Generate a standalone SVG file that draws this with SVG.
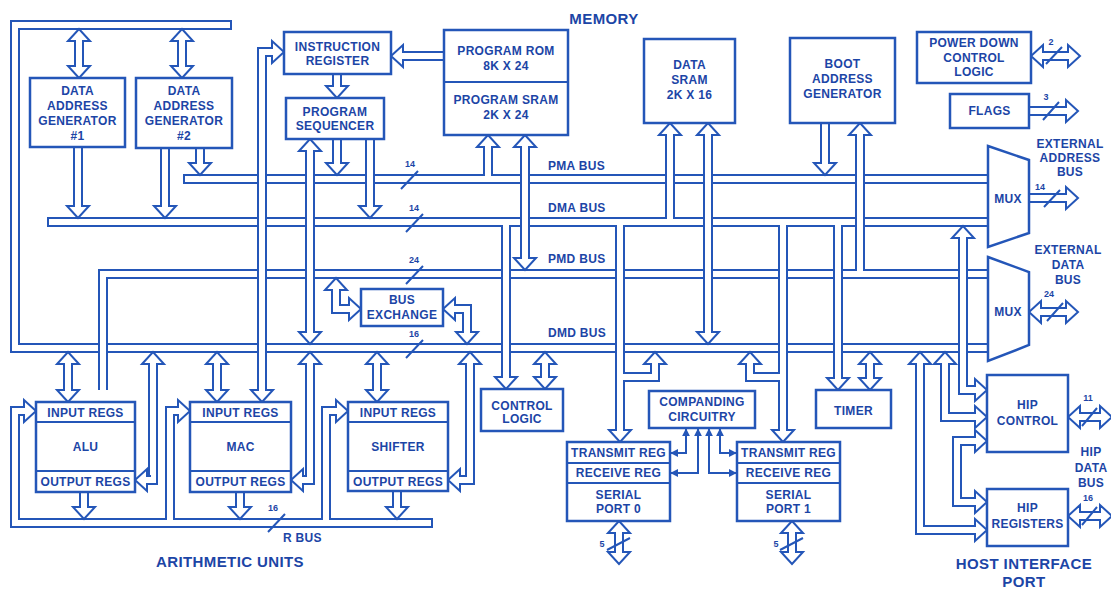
<svg xmlns="http://www.w3.org/2000/svg" width="1111" height="589" viewBox="0 0 1111 589">
<style>
.b{fill:none;stroke:#2456b8;stroke-width:10}
.w{fill:none;stroke:#fff;stroke-width:6}
.h{fill:#fff;stroke:#2456b8;stroke-width:2}
.bx{fill:#fff;stroke:#2456b8;stroke-width:2.5}
.ln{fill:none;stroke:#2456b8;stroke-width:2}
text{font-family:"Liberation Sans",Arial,Helvetica,sans-serif;font-weight:bold;fill:#1c45a6;text-anchor:middle}
.t{font-size:12px;letter-spacing:0.3px}
.n{font-size:9px}
.big{font-size:15px;letter-spacing:0.4px}
.s{text-anchor:start}
</style>
<defs>
<path id="ah" d="M-4,16V12H-11L0,0L11,12H4V16"/>
<marker id="fa" viewBox="0 0 10 10" refX="9" refY="5" markerWidth="8" markerHeight="8" markerUnits="userSpaceOnUse" orient="auto-start-reverse"><path d="M0,0L10,5L0,10z" fill="#2456b8"/></marker>
<path id="dmd" d="M232,25H15V348H988"/>
<path id="pma" d="M183,179H988"/>
<path id="dma" d="M47,222H988"/>
<path id="pmd" d="M988,274H103V390"/>
<path id="rbus" d="M433,523H15V411H24"/>
<path id="macl" d="M170,520V411H178"/>
<path id="shl" d="M326,520V411H334"/>
<path id="dag1t" d="M79,41V66"/>
<path id="dag2t" d="M182,41V66"/>
<path id="dag1b" d="M78,148V206"/>
<path id="dag2b" d="M165,148V206"/>
<path id="dag2p" d="M200,148V163"/>
<path id="ir" d="M262,390V52H272"/>
<path id="romir" d="M444,56H403"/>
<path id="irps" d="M337,74V86"/>
<path id="psdmd" d="M310,151V332"/>
<path id="pspma" d="M337,139V163"/>
<path id="psdma" d="M370,139V206"/>
<path id="pmarom" d="M488,176V147"/>
<path id="rompmd" d="M525,147V258"/>
<path id="dmasram" d="M670,219V135"/>
<path id="sramdmd" d="M708,135V332"/>
<path id="bagpma" d="M825,123V163"/>
<path id="pmdbag" d="M860,271V135"/>
<path id="bxl" d="M349,309H336V290"/>
<path id="bxr" d="M455,309H467V332"/>
<path id="dmacl" d="M506,225V377"/>
<path id="dmdcl" d="M545,364V377"/>
<path id="sp0" d="M620,225V430"/>
<path id="sp0b" d="M620,377H655V364"/>
<path id="sp1" d="M783,225V430"/>
<path id="sp1b" d="M783,377H750V364"/>
<path id="tim" d="M838,225V378"/>
<path id="dmdtim" d="M870,364V378"/>
<path id="hipr" d="M920,364V530H975"/>
<path id="hipc1" d="M945,364V417H975"/>
<path id="hipc0" d="M963,238V390H975"/>
<path id="hipcr" d="M975,441H957V502H975"/>
<path id="pd" d="M1043,56H1068"/>
<path id="flg" d="M1029,111H1066"/>
<path id="m1" d="M1029,198H1066"/>
<path id="m2" d="M1041,312H1066"/>
<path id="hco" d="M1080,417H1100"/>
<path id="hro" d="M1080,516H1100"/>
<path id="aludmd" d="M68,364V390"/>
<path id="alul" d="M147,480H153V364"/>
<path id="aluo" d="M84,492V507"/>
<path id="macdmd" d="M217,364V390"/>
<path id="macl2" d="M303,480H310V364"/>
<path id="maco" d="M240,492V507"/>
<path id="shdmd" d="M377,364V390"/>
<path id="shl2" d="M460,480H470V364"/>
<path id="sho" d="M397,491V507"/>
<path id="sp0o" d="M619,533V552"/>
<path id="sp1o" d="M792,533V552"/>
</defs>
<rect width="1111" height="589" fill="#fff"/>
<g id="connectors">
<use href="#dmd" class="b"/><use href="#dmd" class="w"/>
<use href="#pma" class="b"/><use href="#pma" class="w"/>
<use href="#dma" class="b"/><use href="#dma" class="w"/>
<use href="#pmd" class="b"/><use href="#pmd" class="w"/>
<use href="#rbus" class="b"/><use href="#macl" class="b"/><use href="#shl" class="b"/>
<use href="#rbus" class="w"/><use href="#macl" class="w"/><use href="#shl" class="w"/>
<path class="ln" d="M231,20V30M184,174V184M48,217V227M432,518V528"/>
<use href="#dag1t" class="b"/><use href="#dag1t" class="w"/>
<use href="#dag2t" class="b"/><use href="#dag2t" class="w"/>
<use href="#dag1b" class="b"/><use href="#dag1b" class="w"/>
<use href="#dag2b" class="b"/><use href="#dag2b" class="w"/>
<use href="#dag2p" class="b"/><use href="#dag2p" class="w"/>
<use href="#ir" class="b"/><use href="#ir" class="w"/>
<use href="#romir" class="b"/><use href="#romir" class="w"/>
<use href="#irps" class="b"/><use href="#irps" class="w"/>
<use href="#psdmd" class="b"/><use href="#psdmd" class="w"/>
<use href="#pspma" class="b"/><use href="#pspma" class="w"/>
<use href="#psdma" class="b"/><use href="#psdma" class="w"/>
<use href="#pmarom" class="b"/><use href="#pmarom" class="w"/>
<use href="#rompmd" class="b"/><use href="#rompmd" class="w"/>
<use href="#dmasram" class="b"/><use href="#dmasram" class="w"/>
<use href="#sramdmd" class="b"/><use href="#sramdmd" class="w"/>
<use href="#bagpma" class="b"/><use href="#bagpma" class="w"/>
<use href="#pmdbag" class="b"/><use href="#pmdbag" class="w"/>
<use href="#bxl" class="b"/><use href="#bxl" class="w"/>
<use href="#bxr" class="b"/><use href="#bxr" class="w"/>
<use href="#dmacl" class="b"/><use href="#dmacl" class="w"/>
<use href="#dmdcl" class="b"/><use href="#dmdcl" class="w"/>
<use href="#sp0" class="b"/><use href="#sp0b" class="b"/><use href="#sp0" class="w"/><use href="#sp0b" class="w"/>
<use href="#sp1" class="b"/><use href="#sp1b" class="b"/><use href="#sp1" class="w"/><use href="#sp1b" class="w"/>
<use href="#tim" class="b"/><use href="#tim" class="w"/>
<use href="#dmdtim" class="b"/><use href="#dmdtim" class="w"/>
<use href="#hipr" class="b"/><use href="#hipr" class="w"/>
<use href="#hipc1" class="b"/><use href="#hipc1" class="w"/>
<use href="#hipc0" class="b"/><use href="#hipc0" class="w"/>
<use href="#hipcr" class="b"/><use href="#hipcr" class="w"/>
<use href="#pd" class="b"/><use href="#pd" class="w"/>
<use href="#flg" class="b"/><use href="#flg" class="w"/>
<use href="#m1" class="b"/><use href="#m1" class="w"/>
<use href="#m2" class="b"/><use href="#m2" class="w"/>
<use href="#hco" class="b"/><use href="#hco" class="w"/>
<use href="#hro" class="b"/><use href="#hro" class="w"/>
<use href="#aludmd" class="b"/><use href="#aludmd" class="w"/>
<use href="#alul" class="b"/><use href="#alul" class="w"/>
<use href="#aluo" class="b"/><use href="#aluo" class="w"/>
<use href="#macdmd" class="b"/><use href="#macdmd" class="w"/>
<use href="#macl2" class="b"/><use href="#macl2" class="w"/>
<use href="#maco" class="b"/><use href="#maco" class="w"/>
<use href="#shdmd" class="b"/><use href="#shdmd" class="w"/>
<use href="#shl2" class="b"/><use href="#shl2" class="w"/>
<use href="#sho" class="b"/><use href="#sho" class="w"/>
<use href="#sp0o" class="b"/><use href="#sp0o" class="w"/>
<use href="#sp1o" class="b"/><use href="#sp1o" class="w"/>
<g class="h">
<use href="#ah" transform="translate(79,29)"/><use href="#ah" transform="translate(79,78) rotate(180)"/>
<use href="#ah" transform="translate(182,29)"/><use href="#ah" transform="translate(182,78) rotate(180)"/>
<use href="#ah" transform="translate(78,218) rotate(180)"/>
<use href="#ah" transform="translate(165,218) rotate(180)"/>
<use href="#ah" transform="translate(200,175) rotate(180)"/>
<use href="#ah" transform="translate(284,52) rotate(90)"/><use href="#ah" transform="translate(262,402) rotate(180)"/>
<use href="#ah" transform="translate(391,56) rotate(270)"/>
<use href="#ah" transform="translate(337,98) rotate(180)"/>
<use href="#ah" transform="translate(310,139)"/><use href="#ah" transform="translate(310,344) rotate(180)"/>
<use href="#ah" transform="translate(337,175) rotate(180)"/>
<use href="#ah" transform="translate(370,218) rotate(180)"/>
<use href="#ah" transform="translate(488,135)"/>
<use href="#ah" transform="translate(525,135)"/><use href="#ah" transform="translate(525,270) rotate(180)"/>
<use href="#ah" transform="translate(670,123)"/>
<use href="#ah" transform="translate(708,123)"/><use href="#ah" transform="translate(708,344) rotate(180)"/>
<use href="#ah" transform="translate(825,175) rotate(180)"/>
<use href="#ah" transform="translate(860,123)"/>
<use href="#ah" transform="translate(361,309) rotate(90)"/><use href="#ah" transform="translate(336,278)"/>
<use href="#ah" transform="translate(443,309) rotate(270)"/><use href="#ah" transform="translate(467,344) rotate(180)"/>
<use href="#ah" transform="translate(506,389) rotate(180)"/>
<use href="#ah" transform="translate(545,352)"/><use href="#ah" transform="translate(545,389) rotate(180)"/>
<use href="#ah" transform="translate(620,442) rotate(180)"/><use href="#ah" transform="translate(655,352)"/>
<use href="#ah" transform="translate(783,442) rotate(180)"/><use href="#ah" transform="translate(750,352)"/>
<use href="#ah" transform="translate(838,390) rotate(180)"/>
<use href="#ah" transform="translate(870,352)"/><use href="#ah" transform="translate(870,390) rotate(180)"/>
<use href="#ah" transform="translate(920,352)"/><use href="#ah" transform="translate(987,530) rotate(90)"/>
<use href="#ah" transform="translate(945,352)"/><use href="#ah" transform="translate(987,417) rotate(90)"/>
<use href="#ah" transform="translate(963,226)"/><use href="#ah" transform="translate(987,390) rotate(90)"/>
<use href="#ah" transform="translate(987,441) rotate(90)"/><use href="#ah" transform="translate(987,502) rotate(90)"/>
<use href="#ah" transform="translate(1031,56) rotate(270)"/><use href="#ah" transform="translate(1080,56) rotate(90)"/>
<use href="#ah" transform="translate(1078,111) rotate(90)"/>
<use href="#ah" transform="translate(1078,198) rotate(90)"/>
<use href="#ah" transform="translate(1029,312) rotate(270)"/><use href="#ah" transform="translate(1078,312) rotate(90)"/>
<use href="#ah" transform="translate(1068,417) rotate(270)"/><use href="#ah" transform="translate(1112,417) rotate(90)"/>
<use href="#ah" transform="translate(1068,516) rotate(270)"/><use href="#ah" transform="translate(1112,516) rotate(90)"/>
<use href="#ah" transform="translate(68,352)"/><use href="#ah" transform="translate(68,402) rotate(180)"/>
<use href="#ah" transform="translate(135,480) rotate(270)"/><use href="#ah" transform="translate(153,352)"/>
<use href="#ah" transform="translate(84,519) rotate(180)"/>
<use href="#ah" transform="translate(217,352)"/><use href="#ah" transform="translate(217,402) rotate(180)"/>
<use href="#ah" transform="translate(291,480) rotate(270)"/><use href="#ah" transform="translate(310,352)"/>
<use href="#ah" transform="translate(240,519) rotate(180)"/>
<use href="#ah" transform="translate(377,352)"/><use href="#ah" transform="translate(377,402) rotate(180)"/>
<use href="#ah" transform="translate(448,480) rotate(270)"/><use href="#ah" transform="translate(470,352)"/>
<use href="#ah" transform="translate(397,519) rotate(180)"/>
<use href="#ah" transform="translate(619,521)"/><use href="#ah" transform="translate(619,564) rotate(180)"/>
<use href="#ah" transform="translate(792,521)"/><use href="#ah" transform="translate(792,564) rotate(180)"/>
<use href="#ah" transform="translate(36,411) rotate(90)"/>
<use href="#ah" transform="translate(190,411) rotate(90)"/>
<use href="#ah" transform="translate(348,411) rotate(90)"/>
</g>
<g class="ln" marker-start="url(#fa)" marker-end="url(#fa)">
<path d="M686,429V453H671"/>
<path d="M698,429V473H671"/>
<path d="M709,429V473H736"/>
<path d="M720,429V453H736"/>
</g>
<path class="ln" d="M401,189L418,171M406,232L423,214M406,284L423,266M406,358L423,340M268,532L285,514M1046,64L1062,47M1043,120L1059,102M1044,207L1060,190M1047,321L1063,303M1082,426L1097,408M1082,525L1097,507M607,550L630,538M780,550L803,538"/>
<text class="n" x="410" y="167">14</text>
<text class="n" x="414" y="211">14</text>
<text class="n" x="414" y="263">24</text>
<text class="n" x="414" y="337">16</text>
<text class="n" x="273" y="511">16</text>
<text class="n" x="1051" y="45">2</text>
<text class="n" x="1046" y="100">3</text>
<text class="n" x="1040" y="190">14</text>
<text class="n" x="1049" y="297">24</text>
<text class="n" x="1088" y="401">11</text>
<text class="n" x="1088" y="501">16</text>
<text class="n" x="602" y="547">5</text>
<text class="n" x="776" y="547">5</text>
<text class="t s" x="548" y="170">PMA BUS</text>
<text class="t s" x="548" y="212">DMA BUS</text>
<text class="t s" x="548" y="263">PMD BUS</text>
<text class="t s" x="548" y="337">DMD BUS</text>
<text class="t s" x="283" y="542">R BUS</text>
</g>
<g id="dag1"><rect class="bx" x="30" y="78" width="95" height="69"/><text class="t" x="77.5" y="95">DATA</text><text class="t" x="77.5" y="110">ADDRESS</text><text class="t" x="77.5" y="125">GENERATOR</text><text class="t" x="77.5" y="140">#1</text></g>
<g id="dag2"><rect class="bx" x="136" y="78" width="96" height="70"/><text class="t" x="184" y="95">DATA</text><text class="t" x="184" y="110">ADDRESS</text><text class="t" x="184" y="125">GENERATOR</text><text class="t" x="184" y="140">#2</text></g>
<g id="ireg"><rect class="bx" x="284" y="32" width="107" height="42"/><text class="t" x="337.5" y="51">INSTRUCTION</text><text class="t" x="337.5" y="65">REGISTER</text></g>
<g id="pseq"><rect class="bx" x="286" y="98" width="98" height="41"/><text class="t" x="335" y="116">PROGRAM</text><text class="t" x="335" y="130">SEQUENCER</text></g>
<g id="pmem"><rect class="bx" x="444" y="30" width="124" height="105"/><path class="ln" d="M444,82H568"/><text class="t" x="506" y="55">PROGRAM ROM</text><text class="t" x="506" y="70">8K X 24</text><text class="t" x="506" y="104">PROGRAM SRAM</text><text class="t" x="506" y="119">2K X 24</text></g>
<g id="dsram"><rect class="bx" x="644" y="39" width="91" height="84"/><text class="t" x="689.5" y="69">DATA</text><text class="t" x="689.5" y="84">SRAM</text><text class="t" x="689.5" y="99">2K X 16</text></g>
<g id="boot"><rect class="bx" x="790" y="38" width="105" height="85"/><text class="t" x="842.5" y="68">BOOT</text><text class="t" x="842.5" y="83">ADDRESS</text><text class="t" x="842.5" y="98">GENERATOR</text></g>
<g id="pdown"><rect class="bx" x="917" y="32" width="114" height="51"/><text class="t" x="974" y="47">POWER DOWN</text><text class="t" x="974" y="62">CONTROL</text><text class="t" x="974" y="76">LOGIC</text></g>
<g id="flags"><rect class="bx" x="950" y="94" width="79" height="34"/><text class="t" x="989.5" y="115">FLAGS</text></g>
<g id="mux1"><polygon class="bx" points="988,146 1029,160 1029,233 988,247"/><text class="t" x="1008" y="203">MUX</text></g>
<g id="mux2"><polygon class="bx" points="988,257 1029,272 1029,345 988,361"/><text class="t" x="1008" y="316">MUX</text></g>
<g id="bx"><rect class="bx" x="361" y="289" width="82" height="37"/><text class="t" x="402" y="304">BUS</text><text class="t" x="402" y="319">EXCHANGE</text></g>
<g id="alu"><rect class="bx" x="36" y="402" width="99" height="90"/><path class="ln" d="M36,422H135M36,471H135"/><text class="t" x="85.5" y="417">INPUT REGS</text><text class="t" x="85.5" y="451">ALU</text><text class="t" x="85.5" y="486">OUTPUT REGS</text></g>
<g id="mac"><rect class="bx" x="190" y="402" width="101" height="90"/><path class="ln" d="M190,422H291M190,471H291"/><text class="t" x="240.5" y="417">INPUT REGS</text><text class="t" x="240.5" y="451">MAC</text><text class="t" x="240.5" y="486">OUTPUT REGS</text></g>
<g id="shifter"><rect class="bx" x="348" y="402" width="100" height="89"/><path class="ln" d="M348,422H448M348,471H448"/><text class="t" x="398" y="417">INPUT REGS</text><text class="t" x="398" y="451">SHIFTER</text><text class="t" x="398" y="486">OUTPUT REGS</text></g>
<g id="ctrl"><rect class="bx" x="481" y="389" width="82" height="42"/><text class="t" x="522" y="410">CONTROL</text><text class="t" x="522" y="423">LOGIC</text></g>
<g id="comp"><rect class="bx" x="649" y="391" width="106" height="37"/><text class="t" x="702" y="406">COMPANDING</text><text class="t" x="702" y="421">CIRCUITRY</text></g>
<g id="sp0box"><rect class="bx" x="567" y="442" width="103" height="79"/><path class="ln" d="M567,463H670M567,483H670"/><text class="t" x="618.5" y="457">TRANSMIT REG</text><text class="t" x="618.5" y="477">RECEIVE REG</text><text class="t" x="618.5" y="499">SERIAL</text><text class="t" x="618.5" y="513">PORT 0</text></g>
<g id="sp1box"><rect class="bx" x="737" y="442" width="103" height="79"/><path class="ln" d="M737,463H840M737,483H840"/><text class="t" x="788.5" y="457">TRANSMIT REG</text><text class="t" x="788.5" y="477">RECEIVE REG</text><text class="t" x="788.5" y="499">SERIAL</text><text class="t" x="788.5" y="513">PORT 1</text></g>
<g id="timer"><rect class="bx" x="816" y="390" width="75" height="38"/><text class="t" x="853.5" y="415">TIMER</text></g>
<g id="hipc"><rect class="bx" x="987" y="375" width="81" height="77"/><text class="t" x="1027.5" y="409">HIP</text><text class="t" x="1027.5" y="425">CONTROL</text></g>
<g id="hipreg"><rect class="bx" x="987" y="489" width="81" height="57"/><text class="t" x="1027.5" y="512">HIP</text><text class="t" x="1027.5" y="528">REGISTERS</text></g>
<g id="labels">
<text class="big" x="604" y="24">MEMORY</text>
<text class="t" x="1070" y="148">EXTERNAL</text><text class="t" x="1070" y="162">ADDRESS</text><text class="t" x="1070" y="176">BUS</text>
<text class="t" x="1068" y="254">EXTERNAL</text><text class="t" x="1068" y="269">DATA</text><text class="t" x="1068" y="284">BUS</text>
<text class="t" x="1091" y="456">HIP</text><text class="t" x="1091" y="472">DATA</text><text class="t" x="1091" y="487">BUS</text>
<text class="big" x="230" y="567">ARITHMETIC UNITS</text>
<text class="big" x="1024" y="569">HOST INTERFACE</text>
<text class="big" x="1024" y="587">PORT</text>
</g>
</svg>
